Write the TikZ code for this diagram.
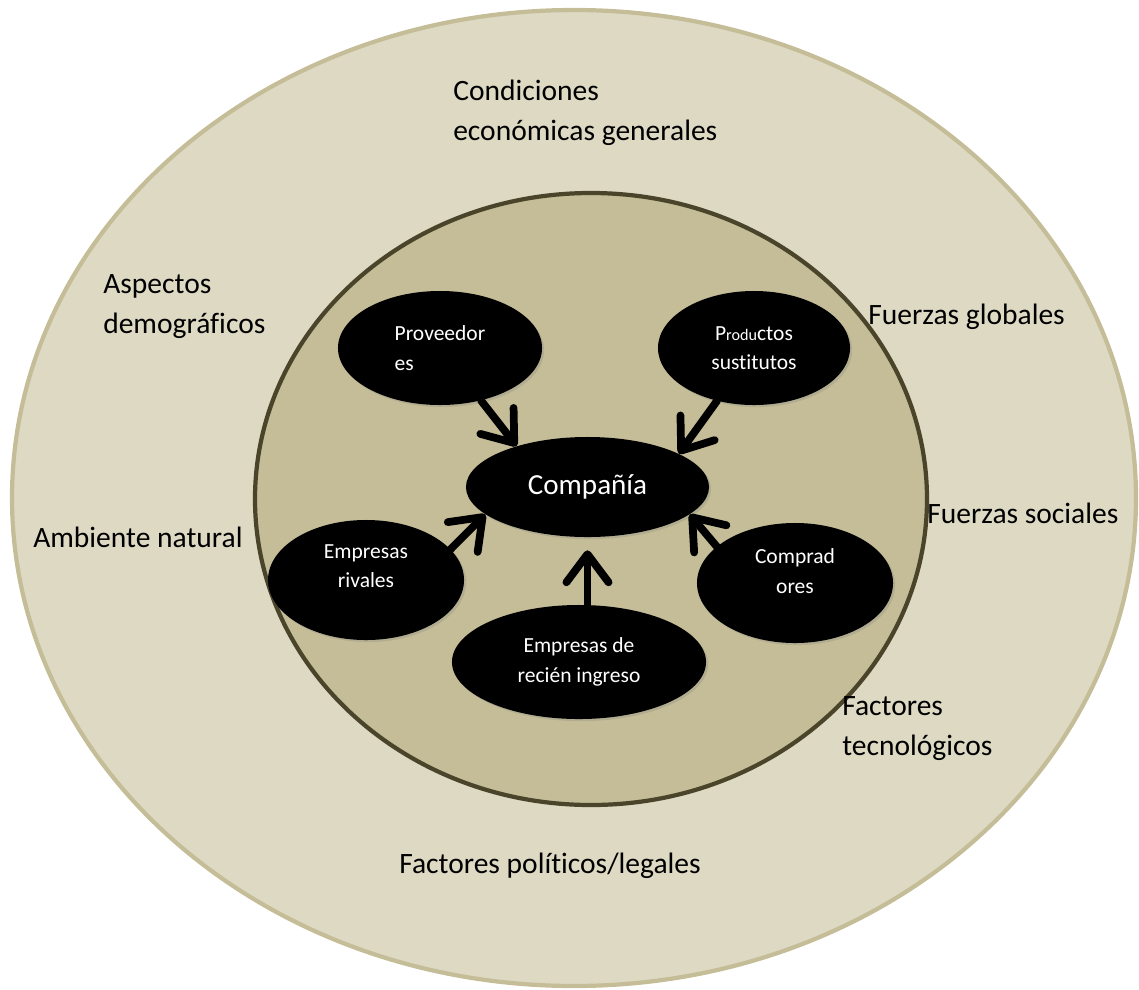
\documentclass[tikz,border=0pt]{standalone}
\usepackage{fontspec}
\setmainfont{Carlito}[Ligatures=NoCommon]
\usetikzlibrary{shapes.geometric,arrows.meta,shadows}
\definecolor{envfill}{HTML}{DDD9C3}
\definecolor{envline}{HTML}{C4BD97}
\definecolor{indfill}{HTML}{C4BD97}
\definecolor{indline}{HTML}{4A452A}

\begin{document}
\begin{tikzpicture}[x=0.025cm, y=-0.025cm,
    force/.style={ellipse, fill=black, text=white, inner sep=0pt, align=center,
        drop shadow={opacity=0.25, shadow xshift=1.5pt, shadow yshift=-1.5pt},
        font=\fontsize{15.3}{21}\selectfont},
    factor/.style={anchor=west, align=left, inner sep=0pt, font=\fontsize{21}{28.4}\selectfont},
    push/.style={line width=5.5pt, line cap=round, -{Straight Barb[length=20pt, width=30pt, round]}}]
    \useasboundingbox (0,0) rectangle (1139,989);

    % General environment
    \draw[envline, fill=envfill, line width=3pt] (574,498) ellipse [x radius=562, y radius=488];
    % Industry environment
    \draw[indline, fill=indfill, line width=3pt] (591,499) ellipse [x radius=336, y radius=306];

    % Environment factors
    \node[factor] (econ) at (453,113) {Condiciones\\económicas generales};
    \node[factor] (demo) at (103,307) {Aspectos\\demográficos};
    \node[factor] (glob) at (868,317) {Fuerzas globales};
    \node[factor] (natu) at (33,537) {Ambiente natural};
    \node[factor] (soci) at (927,513) {Fuerzas sociales};
    \node[factor] (tecn) at (842,729) {Factores\\tecnológicos};
    \node[factor] (poli) at (399,866) {Factores políticos/legales};

    % Competitive forces
    \node[force, minimum width=6.075cm, minimum height=2.5cm, font=\fontsize{20.7}{24}\selectfont]
        (comp) at (587.5,487) {Compañía};
    \node[force, minimum width=5.1cm, minimum height=2.85cm, align=left] (prov) at (440,348) {Proveedor\\es};
    \node[force, minimum width=4.8cm, minimum height=2.85cm] (prod) at (754,348)
        {P{\fontsize{11.5}{21}\selectfont rodu}ctos\\sustitutos};
    \node[force, minimum width=4.9cm, minimum height=3cm, text depth=20pt] (riv) at (366,580) {Empresas\\rivales};
    \node[force, minimum width=4.9cm, minimum height=3cm, text depth=17pt] (compr) at (795,583) {Comprad\\ores};
    \node[force, minimum width=6.35cm, minimum height=2.85cm] (rec) at (579,662) {Empresas de\\recién ingreso};

    % Arrows into the company
    \draw[push] (prov.-52) -- (comp.150);
    \draw[push] (prod.-125) -- (comp.20);
    \draw[push] (riv.20) -- (comp.195);
    \draw[push] (compr.155) -- (comp.-15);
    \draw[push, shorten >=0.325cm] (rec.north -| comp) -- (comp.south);
\end{tikzpicture}
\end{document}
